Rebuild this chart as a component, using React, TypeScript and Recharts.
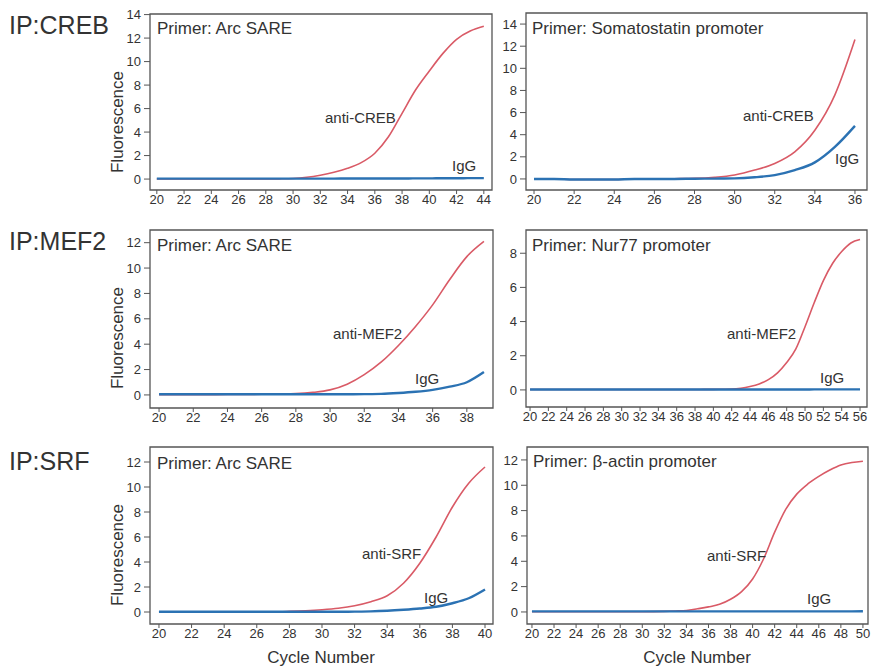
import React from 'react';
import { LineChart, Line, XAxis, YAxis, ReferenceArea } from 'recharts';

// qPCR amplification curves
const creb1Cycles = [20, 21, 22, 23, 24, 25, 26, 27, 28, 29, 30, 31, 32, 33, 34, 35, 36, 37, 38, 39, 40, 41, 42, 43, 44];
const creb1Anti = [0, 0, 0, 0, 0, 0, 0, 0, 0.01, 0.02, 0.05, 0.15, 0.33, 0.58, 0.92, 1.4, 2.2, 3.6, 5.6, 7.6, 9.2, 10.7, 11.9, 12.6, 13.0];
const creb1IgG = [0.04, 0.04, 0.04, 0.04, 0.04, 0.04, 0.04, 0.04, 0.04, 0.04, 0.04, 0.04, 0.04, 0.04, 0.05, 0.05, 0.05, 0.05, 0.05, 0.06, 0.06, 0.07, 0.07, 0.08, 0.08];

const creb2Cycles = [20, 21, 22, 23, 24, 25, 26, 27, 28, 29, 30, 31, 32, 33, 34, 35, 36];
const creb2Anti = [0, 0, -0.05, -0.05, -0.05, 0, 0, 0.02, 0.05, 0.15, 0.36, 0.8, 1.4, 2.45, 4.4, 7.6, 12.6];
const creb2IgG = [0, 0, -0.05, -0.05, -0.05, 0, 0, 0, 0.02, 0.03, 0.05, 0.15, 0.35, 0.8, 1.5, 2.9, 4.8];

const mef1Cycles = [20, 21, 22, 23, 24, 25, 26, 27, 28, 29, 30, 31, 32, 33, 34, 35, 36, 37, 38, 39];
const mef1Anti = [0.02, 0.02, 0.02, 0.02, 0.03, 0.04, 0.05, 0.07, 0.1, 0.2, 0.4, 0.85, 1.6, 2.6, 3.9, 5.4, 7.1, 9.1, 10.9, 12.1];
const mef1IgG = [0.05, 0.05, 0.05, 0.05, 0.05, 0.05, 0.05, 0.05, 0.05, 0.05, 0.05, 0.05, 0.06, 0.08, 0.15, 0.25, 0.4, 0.65, 1.0, 1.8];

const mef2Cycles = [20, 21, 22, 23, 24, 25, 26, 27, 28, 29, 30, 31, 32, 33, 34, 35, 36, 37, 38, 39, 40, 41, 42, 43, 44, 45, 46, 47, 48, 49, 50, 51, 52, 53, 54, 55, 56];
const mef2Anti = [0.02, 0.02, 0.02, 0.02, 0.02, 0.02, 0.02, 0.02, 0.02, 0.02, 0.02, 0.02, 0.02, 0.02, 0.02, 0.02, 0.02, 0.02, 0.02, 0.03, 0.03, 0.04, 0.05, 0.1, 0.2, 0.35, 0.6, 1.0, 1.6, 2.4, 3.7, 5.1, 6.4, 7.4, 8.1, 8.6, 8.8];
const mef2IgG = [0.02, 0.02, 0.02, 0.02, 0.02, 0.02, 0.02, 0.02, 0.02, 0.02, 0.02, 0.02, 0.02, 0.02, 0.02, 0.02, 0.02, 0.02, 0.02, 0.02, 0.02, 0.02, 0.02, 0.02, 0.02, 0.02, 0.02, 0.02, 0.02, 0.02, 0.02, 0.03, 0.03, 0.03, 0.03, 0.03, 0.03];

const srf1Cycles = [20, 21, 22, 23, 24, 25, 26, 27, 28, 29, 30, 31, 32, 33, 34, 35, 36, 37, 38, 39, 40];
const srf1Anti = [0.02, 0.02, 0.02, 0.02, 0.02, 0.02, 0.02, 0.02, 0.05, 0.1, 0.18, 0.3, 0.5, 0.82, 1.3, 2.3, 3.9, 6.0, 8.4, 10.3, 11.6];
const srf1IgG = [0.02, 0.02, 0.02, 0.02, 0.02, 0.02, 0.02, 0.02, 0.02, 0.02, 0.02, 0.02, 0.03, 0.05, 0.1, 0.18, 0.28, 0.42, 0.7, 1.1, 1.8];

const srf2Cycles = [20, 21, 22, 23, 24, 25, 26, 27, 28, 29, 30, 31, 32, 33, 34, 35, 36, 37, 38, 39, 40, 41, 42, 43, 44, 45, 46, 47, 48, 49, 50];
const srf2Anti = [0.02, 0.02, 0.02, 0.02, 0.02, 0.02, 0.02, 0.02, 0.02, 0.02, 0.02, 0.03, 0.05, 0.08, 0.12, 0.25, 0.4, 0.6, 1.0, 1.6, 2.6, 4.2, 6.3, 8.1, 9.3, 10.1, 10.7, 11.2, 11.6, 11.8, 11.9];
const srf2IgG = [0.05, 0.05, 0.05, 0.05, 0.05, 0.05, 0.05, 0.05, 0.05, 0.05, 0.05, 0.05, 0.05, 0.05, 0.05, 0.05, 0.05, 0.05, 0.05, 0.05, 0.05, 0.05, 0.05, 0.05, 0.05, 0.05, 0.05, 0.05, 0.05, 0.05, 0.06];

const evenTicks = (from: number, to: number) => {
  const t: number[] = [];
  for (let v = from; v <= to; v += 2) t.push(v);
  return t;
};

const rows = (cycles: number[], anti: number[], igg: number[]) =>
  cycles.map((c, i) => ({ cycle: c, anti: anti[i], igg: igg[i] }));

const RED = '#d95a66';
const BLUE = '#2b72b3';
const FRAME = '#555';
const INK = '#333';

type Box = { left: number; top: number; width: number; height: number };

function Panel({ box, xDomain, yDomain, xTicks, yTicks, data }: {
  box: Box; xDomain: [number, number]; yDomain: [number, number];
  xTicks: number[]; yTicks: number[]; data: any[];
}) {
  const ml = 60, mt = 10, mr = 10, xh = 30;
  return (
    <div style={{ position: 'absolute', left: box.left - ml, top: box.top - mt }}>
      <LineChart width={box.width + ml + mr} height={box.height + mt + xh} data={data}
        margin={{ top: mt, right: mr, left: 0, bottom: 0 }}>
        <XAxis type="number" dataKey="cycle" domain={xDomain} ticks={xTicks} interval={0} allowDataOverflow
          axisLine={false} tickLine={{ stroke: FRAME }} tickSize={4} tickMargin={1} height={xh}
          tick={{ fontSize: 13, fill: INK }} />
        <YAxis type="number" domain={yDomain} ticks={yTicks} interval={0} allowDataOverflow
          axisLine={false} tickLine={{ stroke: FRAME }} tickSize={6} tickMargin={3} width={ml}
          tick={{ fontSize: 13, fill: INK }} />
        <ReferenceArea x1={xDomain[0]} x2={xDomain[1]} y1={yDomain[0]} y2={yDomain[1]}
          fill="none" stroke={FRAME} strokeWidth={1.3} ifOverflow="visible" />
        <Line type="monotone" dataKey="anti" stroke={RED} strokeWidth={1.6} dot={false} isAnimationActive={false} />
        <Line type="monotone" dataKey="igg" stroke={BLUE} strokeWidth={2.4} dot={false} isAnimationActive={false} />
      </LineChart>
    </div>
  );
}

function Txt({ x, cy, size, children, center, rotate }: {
  x: number; cy: number; size: number; children: React.ReactNode; center?: boolean; rotate?: boolean;
}) {
  let transform = center ? 'translateX(-50%)' : undefined;
  if (rotate) transform = 'translate(-50%, -50%) rotate(-90deg)';
  return (
    <div style={{
      position: 'absolute', left: x, top: rotate ? cy : cy - size * 0.49, fontSize: size, lineHeight: 1,
      whiteSpace: 'nowrap', color: INK, transform,
    }}>{children}</div>
  );
}

export default function App() {
  return (
    <div style={{
      position: 'absolute', left: 0, top: 0, width: 872, height: 668, background: '#fff',
      fontFamily: '"Liberation Sans", Arial, sans-serif', overflow: 'hidden',
    }}>
      <Panel box={{ left: 150, top: 14, width: 342, height: 176 }} xDomain={[19.5, 44.6]} yDomain={[-0.93, 14.05]}
        xTicks={evenTicks(20, 44)} yTicks={evenTicks(0, 14)} data={rows(creb1Cycles, creb1Anti, creb1IgG)} />
      <Panel box={{ left: 526, top: 13, width: 341, height: 177 }} xDomain={[19.6, 36.6]} yDomain={[-1.0, 15.0]}
        xTicks={evenTicks(20, 36)} yTicks={evenTicks(0, 14)} data={rows(creb2Cycles, creb2Anti, creb2IgG)} />
      <Panel box={{ left: 150, top: 230, width: 343, height: 178 }} xDomain={[19.47, 39.53]} yDomain={[-1.03, 13.0]}
        xTicks={evenTicks(20, 38)} yTicks={evenTicks(0, 12)} data={rows(mef1Cycles, mef1Anti, mef1IgG)} />
      <Panel box={{ left: 526, top: 230, width: 341, height: 177 }} xDomain={[19.56, 56.76]} yDomain={[-1.0, 9.36]}
        xTicks={evenTicks(20, 56)} yTicks={evenTicks(0, 8)} data={rows(mef2Cycles, mef2Anti, mef2IgG)} />
      <Panel box={{ left: 150, top: 447, width: 343, height: 177 }} xDomain={[19.45, 40.49]} yDomain={[-0.96, 13.2]}
        xTicks={evenTicks(20, 40)} yTicks={evenTicks(0, 12)} data={rows(srf1Cycles, srf1Anti, srf1IgG)} />
      <Panel box={{ left: 527, top: 447, width: 341, height: 177 }} xDomain={[19.55, 50.46]} yDomain={[-0.95, 13.02]}
        xTicks={evenTicks(20, 50)} yTicks={evenTicks(0, 12)} data={rows(srf2Cycles, srf2Anti, srf2IgG)} />

      <Txt x={9} cy={25} size={25}>IP:CREB</Txt>
      <Txt x={9} cy={241} size={25}>IP:MEF2</Txt>
      <Txt x={9} cy={461} size={25}>IP:SRF</Txt>

      <Txt x={117} cy={122} size={17} rotate>Fluorescence</Txt>
      <Txt x={117} cy={338} size={17} rotate>Fluorescence</Txt>
      <Txt x={117} cy={555} size={17} rotate>Fluorescence</Txt>

      <Txt x={157} cy={28} size={17}>Primer: Arc SARE</Txt>
      <Txt x={532} cy={28} size={17}>Primer: Somatostatin promoter</Txt>
      <Txt x={157} cy={245} size={17}>Primer: Arc SARE</Txt>
      <Txt x={532} cy={245} size={17}>Primer: Nur77 promoter</Txt>
      <Txt x={157} cy={463} size={17}>Primer: Arc SARE</Txt>
      <Txt x={533} cy={461} size={17}>Primer: β-actin promoter</Txt>

      <Txt x={325} cy={117} size={15}>anti-CREB</Txt>
      <Txt x={452} cy={165} size={15}>IgG</Txt>
      <Txt x={743} cy={115} size={15}>anti-CREB</Txt>
      <Txt x={835} cy={158} size={15}>IgG</Txt>
      <Txt x={333} cy={333} size={15}>anti-MEF2</Txt>
      <Txt x={415} cy={378} size={15}>IgG</Txt>
      <Txt x={727} cy={333} size={15}>anti-MEF2</Txt>
      <Txt x={820} cy={377} size={15}>IgG</Txt>
      <Txt x={362} cy={553} size={15}>anti-SRF</Txt>
      <Txt x={424} cy={597} size={15}>IgG</Txt>
      <Txt x={707} cy={555} size={15}>anti-SRF</Txt>
      <Txt x={807} cy={598} size={15}>IgG</Txt>

      <Txt x={321} cy={657} size={17} center>Cycle Number</Txt>
      <Txt x={697} cy={657} size={17} center>Cycle Number</Txt>
    </div>
  );
}
